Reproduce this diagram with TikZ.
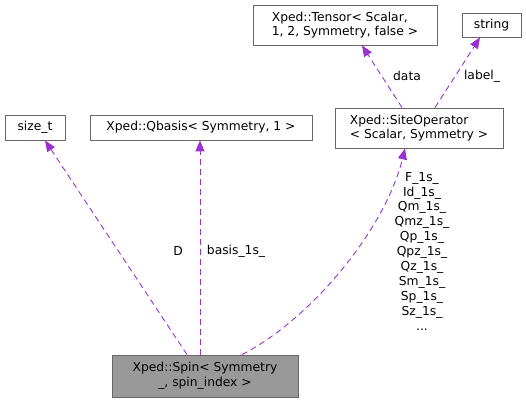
\documentclass[tikz,border=0pt]{standalone}
\usepackage{fontspec}
\setmainfont{DejaVu Sans}
\usetikzlibrary{arrows.meta}
\definecolor{edgec}{HTML}{9A32CD}
\definecolor{boxc}{HTML}{666666}
\definecolor{spinc}{HTML}{999999}
\begin{document}
\begin{tikzpicture}[x=1pt,y=-1pt,
  box/.style={draw=boxc,line width=0.9pt,fill=white,inner sep=0pt,font=\fontsize{12.3}{14.5}\selectfont,align=center},
  dep/.style={draw=edgec,line width=0.9pt,dash pattern=on 6pt off 4pt,-{Triangle[length=11pt,width=9pt,fill=edgec]}},
  lbl/.style={font=\fontsize{12.3}{14.9}\selectfont,inner sep=0pt,align=center}]
\useasboundingbox (0,0) rectangle (526,403);
\node[box,minimum width=60pt,minimum height=25pt] (size) at (35,127.5) {size\_t};
\node[box,minimum width=222pt,minimum height=25pt] (qb) at (201,127.5) {Xped::Qbasis< Symmetry, 1 >};
\node[box,align=left,minimum width=184pt,minimum height=40pt] (ten) at (345,25) {Xped::Tensor< Scalar,\\1, 2, Symmetry, false >};
\node[box,minimum width=59pt,minimum height=24pt] (str) at (491.5,25) {string};
\node[box,align=left,minimum width=168pt,minimum height=40pt] (site) at (419,128) {Xped::SiteOperator\\< Scalar, Symmetry >};
\node[box,fill=spinc,minimum width=186pt,minimum height=42pt] (spin) at (205,376) {Xped::Spin< Symmetry\\\_, spin\_index >};
\draw[dep] ([xshift=-18pt]spin.north) -- ([xshift=10pt]size.south);
\draw[dep] ([xshift=-5pt]spin.north) -- ([xshift=-1pt]qb.south);
\draw[dep] ([xshift=37pt]spin.north) .. controls (310,320) and (385,230) .. ([xshift=-14pt]site.south);
\draw[dep] ([xshift=-17pt]site.north) -- ([xshift=17pt]ten.south);
\draw[dep] ([xshift=16pt]site.north) -- ([xshift=-11.5pt]str.south);
\node[lbl] (lD) at (178,251) {D};
\node[lbl] (lb) at (236,251) {basis\_1s\_};
\node[lbl] (ld) at (407,76) {data};
\node[lbl] (ll) at (482,76) {label\_};
\node[lbl,anchor=north] (lst) at (422,172) {F\_1s\_\\Id\_1s\_\\Qm\_1s\_\\Qmz\_1s\_\\Qp\_1s\_\\Qpz\_1s\_\\Qz\_1s\_\\Sm\_1s\_\\Sp\_1s\_\\Sz\_1s\_\\...};
\end{tikzpicture}
\end{document}
